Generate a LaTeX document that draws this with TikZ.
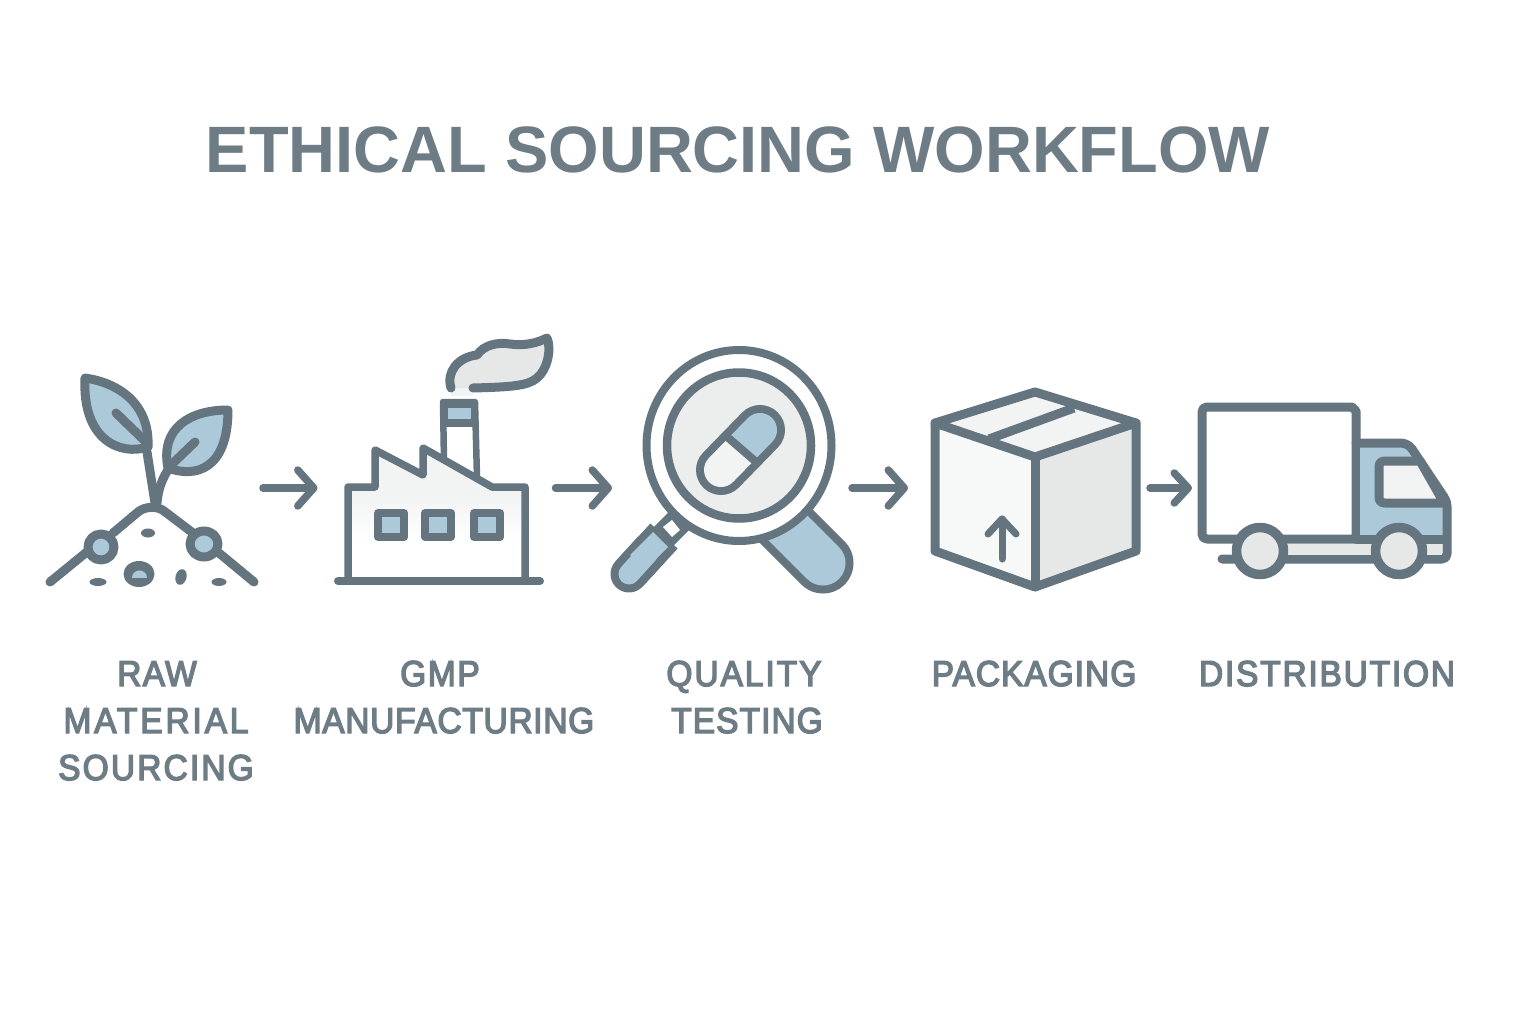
\documentclass[tikz,border=0pt]{standalone}
\usepackage{fontspec}
\setmainfont{Liberation Sans}
\newfontfamily\labf[FakeBold=3.8,FakeStretch=0.93]{Liberation Sans}
\newfontfamily\ttlf[FakeStretch=0.99]{Liberation Sans}
\usetikzlibrary{arrows.meta}
\definecolor{ink}{HTML}{65757F}
\definecolor{txt}{HTML}{6E7C86}
\definecolor{sky}{HTML}{ACC9DA}
\definecolor{pale}{HTML}{F2F3F3}
\definecolor{mist}{HTML}{E6E8E8}
\tikzset{
  x=1pt,y=-1pt,
  ln/.style={draw=ink,line width=#1,line cap=round,line join=round},
  ln/.default=9pt,
  iconbox/.style={inner sep=0pt,outer sep=0pt,minimum height=10pt},
  flow/.style={draw=ink,line width=7.5pt,line cap=round,-{Straight Barb[length=16pt,width=36pt,line width=7.5pt,round]}},
  lab/.style={text=txt,font=\fontsize{36}{36}\selectfont\labf\addfontfeature{LetterSpace=#1},inner sep=0pt,anchor=base},
  ttl/.style={text=txt,font=\fontsize{65.6}{66}\selectfont\ttlf\bfseries,inner sep=0pt,anchor=base}
}
\begin{document}
\begin{tikzpicture}
\useasboundingbox (0,0) rectangle (1536,1024);
\fill[white] (0,0) rectangle (1536,1024);
\node[ttl] (title) at (738,173) {ETHICAL SOURCING WORKFLOW};

% ---- invisible icon boxes, used as connector ends
\node[iconbox,minimum width=218pt] (plant) at (154,488) {};
\node[iconbox,minimum width=238pt] (factory) at (436.5,488) {};
\node[iconbox,minimum width=240pt] (lens) at (732,488) {};
\node[iconbox,minimum width=242pt] (box) at (1029,488) {};
\node[iconbox,minimum width=263pt] (truck) at (1323.5,488) {};
\draw[flow] (plant.east) -- (factory.west);
\draw[flow] (factory.east) -- (lens.west);
\draw[flow] (lens.east) -- (box.west);
\draw[flow,-{Straight Barb[length=14pt,width=30pt,line width=7.5pt,round]}] (box.east) -- (truck.west);

% ---- plant
\filldraw[ln,fill=sky] (85,378) .. controls (120,383) and (150,405) .. (148,447)
  .. controls (120,456) and (82,440) .. (85,378) -- cycle;
\filldraw[ln,fill=sky] (228,410) .. controls (190,410) and (160,428) .. (168,468)
  .. controls (195,478) and (228,470) .. (228,410) -- cycle;
\draw[ln] (116,413) -- (146,442);
\draw[ln] (195,442) -- (170,466);
\draw[ln] (147,452) -- (155,503);
\draw[ln] (170,467) .. controls (162,478) and (158,490) .. (157,503);
\draw[ln] (50,582) -- (88,551);
\draw[ln] (113,533) -- (138,512) .. controls (145,506) and (158,506) .. (164,511) -- (193,533);
\draw[ln] (219,553) -- (254,582);
\filldraw[ln,fill=sky] (101,547) circle[radius=13];
\filldraw[ln,fill=sky] (204,544) ellipse[x radius=14,y radius=13];
\fill[ink] (148,533) ellipse[x radius=7,y radius=4.5];
\fill[ink] (98,582) ellipse[x radius=8.5,y radius=4];
\fill[ink] (219,582) ellipse[x radius=7.5,y radius=4];
\fill[ink,rotate around={-15:(181,577)}] (181,577) ellipse[x radius=5.5,y radius=8];
\fill[ink] (139,574) ellipse[x radius=15.5,y radius=13];
\fill[sky] (132,578) .. controls (132,568) and (147,568) .. (147,578) -- cycle;

% ---- factory
\filldraw[ln=6.5pt,fill=white] (444,462) -- (443,402) -- (475,402) -- (477,478);
\draw[ln=6.5pt] (444,424) -- (475,424);
\fill[ink] (443,400) rectangle (476,424);
\fill[sky] (448,408) rectangle (471,419);
\fill[pale] (348,580) -- (348,487) -- (375,487) -- (375,450) -- (423,475) -- (423,448) -- (492,487) -- (525,487) -- (525,580) -- cycle;
\fill[white] (348,540) rectangle (525,580);
\shade[top color=pale,middle color=mist!60!white,bottom color=white] (348,495) rectangle (525,541);
\draw[ln=7.5pt] (348,580) -- (348,487) -- (375,487) -- (375,450) -- (423,475) -- (423,448) -- (492,487) -- (525,487) -- (525,580);
\draw[ln=8pt] (338,581) -- (540,581);
\foreach \n/\cx in {a/391,b/438,c/487}{
  \filldraw[ln=8pt,fill=sky] (\cx-13,525-12) rectangle (\cx+13,525+12);
}
% smoke
\fill[mist] (451,388) .. controls (446,372) and (458,357) .. (477,355)
  .. controls (484,345) and (497,342) .. (510,344)
  .. controls (525,346) and (537,343) .. (547,338)
  .. controls (552,350) and (547,370) .. (537,378)
  .. controls (528,386) and (510,387) .. (473,388) -- cycle;
\fill[mist,opacity=.5] (451,388) rectangle (473,396);
\draw[ln] (451,388) .. controls (446,372) and (458,357) .. (477,355)
  .. controls (484,345) and (497,342) .. (510,344)
  .. controls (525,346) and (537,343) .. (547,338)
  .. controls (552,350) and (547,370) .. (537,378)
  .. controls (528,386) and (510,387) .. (473,388);

% ---- magnifying glass
\draw[ink,line width=61pt,line cap=round] (823,563) -- (775,515);
\draw[sky,line width=45pt,line cap=round] (823,563) -- (775,515);
\draw[ink,line width=37pt,line cap=round] (629,574) -- (650,551);
\draw[ink,line width=37pt] (629,574) -- (664,536);
\draw[ink,line width=27pt] (660,540) -- (682,518);
\draw[sky,line width=21pt,line cap=round] (629,574) -- (648,553);
\fill[sky] (653,532) -- (668,547) -- (645,570) -- (630,555) -- cycle;
\filldraw[ln=8pt,fill=white] (739,445.5) ellipse[x radius=92.5,y radius=95.5];
\fill[white] (663,527) -- (672,520) -- (680,530) -- (672,537) -- cycle;
\filldraw[ln=8.5pt,fill=mist!75!white] (739,445.5) ellipse[x radius=72,y radius=73];
\draw[ink,line width=50pt,line cap=round] (721,470) -- (760,430);
\begin{scope}
  \clip (723,433) -- (757,463) -- (800,420) -- (760,385) -- cycle;
  \draw[sky,line width=34pt,line cap=round] (721,470) -- (760,430);
\end{scope}
\begin{scope}
  \clip (723,433) -- (757,463) -- (715,510) -- (680,470) -- cycle;
  \draw[pale,line width=34pt,line cap=round] (721,470) -- (760,430);
\end{scope}
\draw[ink,line width=8pt] (725,435) -- (755,461);

% ---- box
\fill[pale] (1035,392) -- (1136,423) -- (1035,457) -- (935,423) -- cycle;
\fill[pale!60!white] (935,423) -- (1035,457) -- (1035,587) -- (935,551) -- cycle;
\fill[mist] (1136,423) -- (1035,457) -- (1035,587) -- (1136,551) -- cycle;
\draw[ln] (1035,392) -- (1136,423) -- (1136,551) -- (1035,587) -- (935,551) -- (935,423) -- cycle;
\draw[ln] (935,423) -- (1035,457) -- (1136,423);
\draw[ln] (1035,457) -- (1035,587);
\draw[ln=9pt,line cap=butt] (1074,408) -- (989,439);
\draw[ln=7pt] (1002,559) -- (1002,519);
\draw[ln=7pt] (988,534) -- (1002,519) -- (1016,534);

% ---- truck
\filldraw[ln,fill=white] (1207,407) -- (1352,407) -- (1356,411) -- (1356,539) -- (1207,539)
  .. controls (1204,539) and (1202,537) .. (1202,534) -- (1202,412)
  .. controls (1202,409) and (1204,407) .. (1207,407) -- cycle;
\fill[sky] (1360,447) -- (1405,447) -- (1443,503) -- (1443,537) -- (1360,537) -- cycle;
\draw[ln] (1356,443) -- (1400,443) .. controls (1405,443) and (1409,445) .. (1412,449) -- (1444,497)
  .. controls (1446,500) and (1447,503) .. (1447,506) -- (1447,554)
  .. controls (1447,557) and (1445,559) .. (1442,559) -- (1222,559);
\draw[ln] (1356,539) -- (1445,539);
\fill[mist] (1288,544) rectangle (1372,555);
\fill[mist] (1426,544) rectangle (1442,555);
\filldraw[ln,fill=pale] (1385,461) -- (1420,461) -- (1444,503) -- (1385,503)
  .. controls (1381,503) and (1379,501) .. (1379,497) -- (1379,467)
  .. controls (1379,463) and (1381,461) .. (1385,461) -- cycle;
\filldraw[ln=9.5pt,fill=mist] (1260,551) circle[radius=23.5];
\filldraw[ln=9.5pt,fill=mist] (1399,551) circle[radius=23.5];

% ---- labels
\node[lab=3.7] (l1a) at (157,686) {RAW};
\node[lab=8] (l1b) at (156,733) {MATERIAL};
\node[lab=6] (l1c) at (156,780) {SOURCING};
\node[lab=4.5] (l2a) at (440,686) {GMP};
\node[lab=2] (l2b) at (444,733) {MANUFACTURING};
\node[lab=5.5] (l3a) at (744,686) {QUALITY};
\node[lab=3] (l3b) at (747,733) {TESTING};
\node[lab=2.8] (l4) at (1034,686) {PACKAGING};
\node[lab=5] (l5) at (1327,686) {DISTRIBUTION};
\end{tikzpicture}
\end{document}
